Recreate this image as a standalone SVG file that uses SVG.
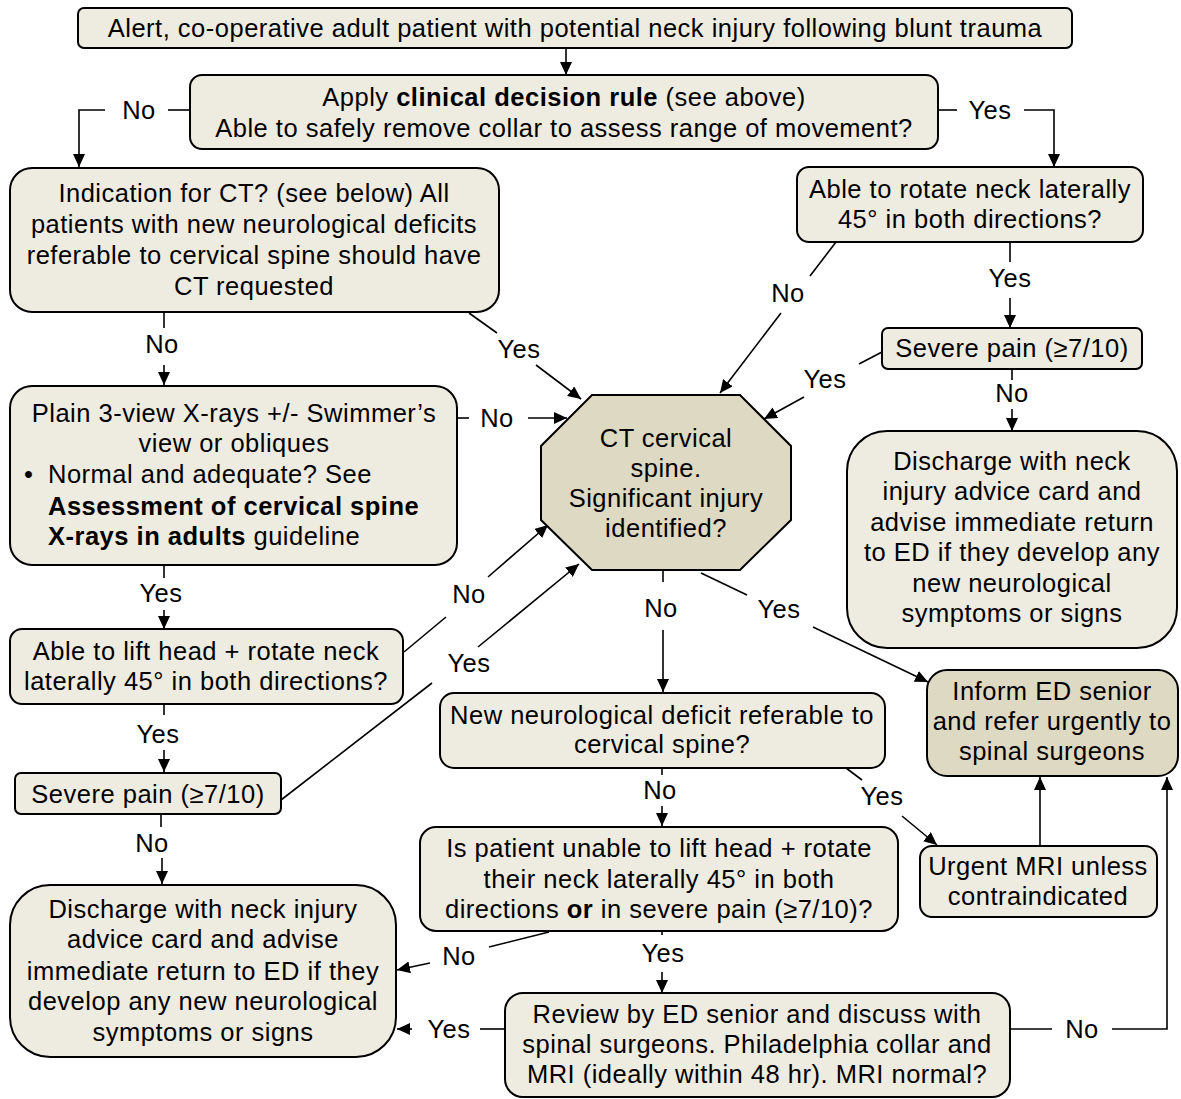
<svg xmlns="http://www.w3.org/2000/svg" width="1181" height="1099" viewBox="0 0 1181 1099">
<defs>
<style>
.box{fill:#EEECE1;stroke:#000;stroke-width:2}
.dark{fill:#DDD9C3}
.t{font-family:"Liberation Sans",Arial,sans-serif;font-size:25.5px;letter-spacing:0.5px;fill:#000;text-anchor:middle}
.s{text-anchor:start}
.b{font-weight:bold}
.c{fill:none;stroke:#000;stroke-width:1.6}
.a{marker-end:url(#ah)}
</style>
<marker id="ah" markerUnits="userSpaceOnUse" markerWidth="13" markerHeight="12" viewBox="0 0 13 12" refX="13" refY="6" orient="auto">
<path d="M0,0 L13,6 L0,12 z" fill="#000"/>
</marker>
</defs>
<rect width="1181" height="1099" fill="#fff"/>

<g id="connectors">
<path class="c a" d="M566,48 V75"/>
<path class="c" d="M190,110 H168"/><text class="t" x="139" y="119">No</text><path class="c a" d="M105,110 H79 V167"/>
<path class="c" d="M938,110 H957"/><text class="t" x="990" y="119">Yes</text><path class="c a" d="M1024,110 H1054 V167"/>
<path class="c" d="M836,242 L810,276"/><text class="t" x="788" y="302">No</text><path class="c a" d="M781,313 L720,393"/>
<path class="c" d="M1010,242 V262"/><text class="t" x="1010" y="287">Yes</text><path class="c a" d="M1010,298 V328"/>
<path class="c" d="M882,352 L859,364"/><text class="t" x="825" y="388">Yes</text><path class="c a" d="M804,397 L764,419"/>
<path class="c" d="M1012,369 V380"/><text class="t" x="1012" y="402">No</text><path class="c a" d="M1012,409 V431"/>
<path class="c" d="M164,312 V328"/><text class="t" x="162" y="353">No</text><path class="c a" d="M164,365 V385"/>
<path class="c" d="M469,313 L497,333"/><text class="t" x="519" y="358">Yes</text><path class="c a" d="M536,365 L581,399"/>
<path class="c" d="M457,418 H469"/><text class="t" x="497" y="427">No</text><path class="c a" d="M528,418 H567"/>
<path class="c" d="M164,565 V578"/><text class="t" x="161" y="602">Yes</text><path class="c a" d="M164,610 V629"/>
<path class="c" d="M404,652 L446,617"/><text class="t" x="469" y="603">No</text><path class="c a" d="M488,577 L548,525"/>
<path class="c" d="M164,704 V715"/><text class="t" x="158" y="743">Yes</text><path class="c a" d="M164,750 V772"/>
<path class="c" d="M281,800 L432,683"/><text class="t" x="469" y="672">Yes</text><path class="c a" d="M478,647 L579,564"/>
<path class="c" d="M161,814 V827"/><text class="t" x="152" y="852">No</text><path class="c a" d="M162,858 V884"/>
<path class="c" d="M663,570 V582"/><text class="t" x="661" y="617">No</text><path class="c a" d="M663,630 V692"/>
<path class="c" d="M701,573 L747,595"/><text class="t" x="779" y="618">Yes</text><path class="c a" d="M813,627 L928,682"/>
<path class="c" d="M662,768 V775"/><text class="t" x="660" y="799">No</text><path class="c a" d="M662,806 V826"/>
<path class="c" d="M846,768 L862,780"/><text class="t" x="882" y="805">Yes</text><path class="c a" d="M902,816 L937,845"/>
<path class="c a" d="M1040,846 V777"/>
<path class="c" d="M549,932 L489,947"/><text class="t" x="459" y="965">No</text><path class="c a" d="M430,963 L397,970"/>
<path class="c" d="M662,931 V935"/><text class="t" x="663" y="962">Yes</text><path class="c a" d="M662,972 V993"/>
<path class="c" d="M505,1029 H480"/><text class="t" x="449" y="1038">Yes</text><path class="c a" d="M412,1029 H397"/>
<path class="c" d="M1010,1029 H1052"/><text class="t" x="1082" y="1038">No</text><path class="c a" d="M1112,1029 H1167 V777"/>
</g>

<g id="n1">
<rect class="box" x="78" y="8" width="994" height="40" rx="6"/>
<text class="t" x="575" y="37">Alert, co-operative adult patient with potential neck injury following blunt trauma</text>
</g>
<g id="n2">
<rect class="box" x="190" y="75" width="748" height="74" rx="12"/>
<text class="t" x="564" y="106">Apply <tspan class="b">clinical decision rule</tspan> (see above)</text>
<text class="t" x="564" y="137">Able to safely remove collar to assess range of movement?</text>
</g>
<g id="n3">
<rect class="box" x="797" y="167" width="346" height="75" rx="12"/>
<text class="t" x="970" y="198">Able to rotate neck laterally</text>
<text class="t" x="970" y="228">45° in both directions?</text>
</g>
<g id="n4">
<rect class="box" x="10" y="168" width="489" height="144" rx="22"/>
<text class="t" x="254" y="202">Indication for CT? (see below) All</text>
<text class="t" x="254" y="233">patients with new neurological deficits</text>
<text class="t" x="254" y="264">referable to cervical spine should have</text>
<text class="t" x="254" y="295">CT requested</text>
</g>
<g id="n5">
<rect class="box" x="882" y="328" width="260" height="41" rx="6"/>
<text class="t" x="1012" y="357">Severe pain (≥7/10)</text>
</g>
<g id="n6">
<rect class="box" x="847" y="431" width="330" height="217" rx="40"/>
<text class="t" x="1012" y="470">Discharge with neck</text>
<text class="t" x="1012" y="500">injury advice card and</text>
<text class="t" x="1012" y="531">advise immediate return</text>
<text class="t" x="1012" y="561">to ED if they develop any</text>
<text class="t" x="1012" y="592">new neurological</text>
<text class="t" x="1012" y="622">symptoms or signs</text>
</g>
<g id="n7">
<polygon class="box dark" points="592,395 740,395 791,446 791,520 740,570 592,570 541,520 541,446"/>
<text class="t" x="666" y="447">CT cervical</text>
<text class="t" x="666" y="477">spine.</text>
<text class="t" x="666" y="507">Significant injury</text>
<text class="t" x="666" y="537">identified?</text>
</g>
<g id="n8">
<rect class="box" x="10" y="386" width="447" height="179" rx="22"/>
<text class="t" x="234" y="422">Plain 3-view X-rays +/- Swimmer’s</text>
<text class="t" x="234" y="452">view or obliques</text>
<text class="t s" x="24" y="483">•</text>
<text class="t s" x="48" y="483">Normal and adequate? See</text>
<text class="t s b" x="48" y="515">Assessment of cervical spine</text>
<text class="t s" x="48" y="545"><tspan class="b">X-rays in adults</tspan> guideline</text>
</g>
<g id="n9">
<rect class="box" x="10" y="629" width="393" height="75" rx="12"/>
<text class="t" x="206" y="660">Able to lift head + rotate neck</text>
<text class="t" x="206" y="690">laterally 45° in both directions?</text>
</g>
<g id="n10">
<rect class="box" x="15" y="773" width="266" height="41" rx="6"/>
<text class="t" x="148" y="803">Severe pain (≥7/10)</text>
</g>
<g id="n11">
<rect class="box" x="10" y="885" width="386" height="172" rx="40"/>
<text class="t" x="203" y="918">Discharge with neck injury</text>
<text class="t" x="203" y="948">advice card and advise</text>
<text class="t" x="203" y="980">immediate return to ED if they</text>
<text class="t" x="203" y="1010">develop any new neurological</text>
<text class="t" x="203" y="1041">symptoms or signs</text>
</g>
<g id="n12">
<rect class="box dark" x="927" y="670" width="251" height="106" rx="20"/>
<text class="t" x="1052" y="700">Inform ED senior</text>
<text class="t" x="1052" y="730">and refer urgently to</text>
<text class="t" x="1052" y="760">spinal surgeons</text>
</g>
<g id="n13">
<rect class="box" x="440" y="693" width="445" height="75" rx="14"/>
<text class="t" x="662" y="724">New neurological deficit referable to</text>
<text class="t" x="662" y="753">cervical spine?</text>
</g>
<g id="n14">
<rect class="box" x="920" y="846" width="237" height="71" rx="12"/>
<text class="t" x="1038" y="875">Urgent MRI unless</text>
<text class="t" x="1038" y="905">contraindicated</text>
</g>
<g id="n15">
<rect class="box" x="420" y="827" width="478" height="104" rx="16"/>
<text class="t" x="659" y="857">Is patient unable to lift head + rotate</text>
<text class="t" x="659" y="888">their neck laterally 45° in both</text>
<text class="t" x="659" y="918">directions <tspan class="b">or</tspan> in severe pain (≥7/10)?</text>
</g>
<g id="n16">
<rect class="box" x="505" y="993" width="505" height="104" rx="18"/>
<text class="t" x="757" y="1023">Review by ED senior and discuss with</text>
<text class="t" x="757" y="1053">spinal surgeons. Philadelphia collar and</text>
<text class="t" x="757" y="1083">MRI (ideally within 48 hr). MRI normal?</text>
</g>
</svg>
